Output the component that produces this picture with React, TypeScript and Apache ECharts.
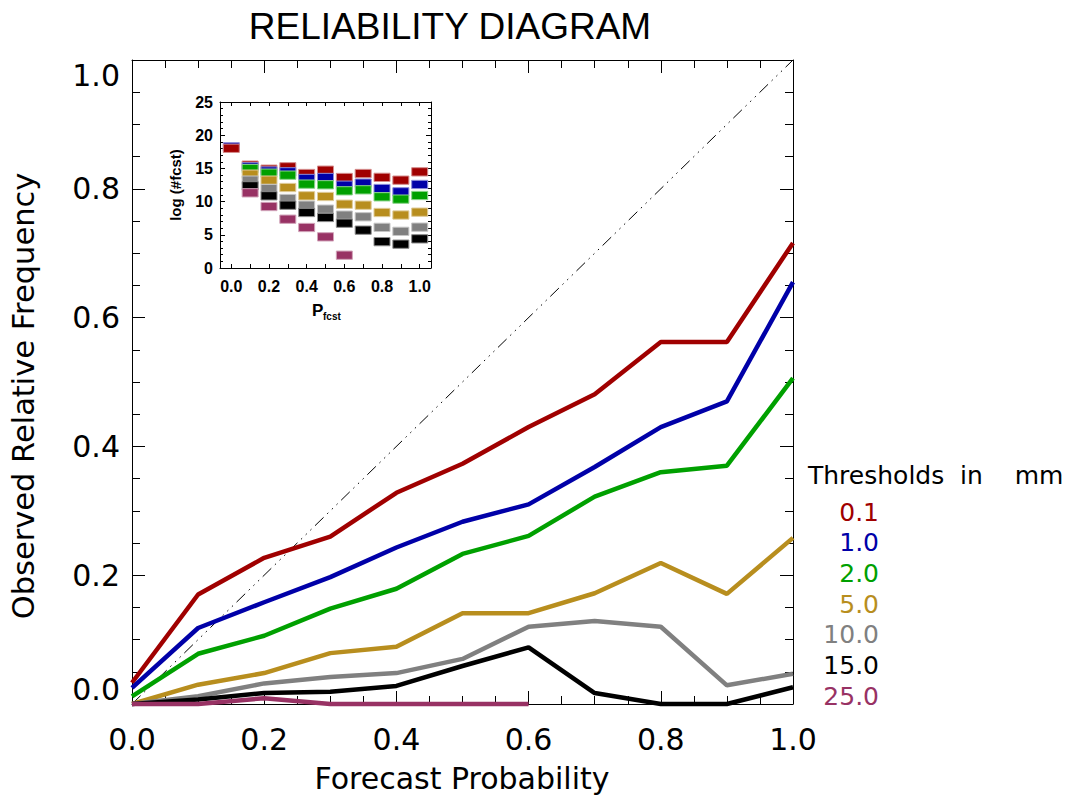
import React, { useEffect, useRef } from "react";
import * as echarts from "echarts";

// ---------- data ----------
const probs = [0, 0.1, 0.2, 0.3, 0.4, 0.5, 0.6, 0.7, 0.8, 0.9, 1.0];
const thresholds = ["0.1", "1.0", "2.0", "5.0", "10.0", "15.0", "25.0"];
const colors = ["#a00000", "#0000a8", "#00a000", "#b88e1e", "#808080", "#000000", "#983264"];

// observed relative frequency per threshold
const rel01 = [0.033, 0.17, 0.227, 0.26, 0.328, 0.373, 0.43, 0.481, 0.562, 0.562, 0.716];
const rel1 = [0.025, 0.118, 0.158, 0.197, 0.243, 0.283, 0.31, 0.368, 0.43, 0.47, 0.655];
const rel2 = [0.012, 0.078, 0.106, 0.148, 0.179, 0.233, 0.261, 0.322, 0.36, 0.37, 0.506];
const rel5 = [0.0, 0.03, 0.048, 0.079, 0.089, 0.141, 0.141, 0.172, 0.219, 0.171, 0.258];
const rel10 = [0.0, 0.012, 0.032, 0.042, 0.048, 0.07, 0.12, 0.129, 0.12, 0.029, 0.047];
const rel15 = [0.0, 0.007, 0.017, 0.019, 0.028, 0.059, 0.088, 0.017, 0.0, 0.0, 0.026];
const rel25 = [0.0, 0.0, 0.009, 0.0, 0.0, 0.0, 0.0, null, null, null, null];

// log(#fcst) per threshold (inset)
const fc01 = [18.03, 15.49, 14.88, 15.24, 14.23, 14.73, 13.63, 14.23, 13.65, 13.23, 14.48];
const fc1 = [18.25, 15.24, 14.61, 14.48, 13.48, 13.63, 12.47, 12.78, 11.97, 11.47, 12.58];
const fc2 = [null, 14.98, 14.28, 13.98, 12.63, 12.53, 11.62, 11.77, 10.72, 10.37, 10.92];
const fc5 = [null, 14.13, 13.23, 12.12, 10.87, 10.77, 9.61, 9.46, 8.36, 7.98, 8.41];
const fc10 = [null, 13.23, 11.97, 10.47, 9.46, 8.86, 7.96, 7.71, 6.12, 5.52, 6.15];
const fc15 = [null, 12.37, 10.87, 9.46, 8.36, 7.61, 6.75, 5.7, 3.97, 3.59, 4.39];
const fc25 = [null, 11.32, 9.26, 7.35, 6.1, 4.69, 1.93, null, null, null, null];

const diagonal = [0, 1];
const mainTicks = [0, 0.2, 0.4, 0.6, 0.8, 1.0];
const insetXTicks = [0, 0.1, 0.2, 0.3, 0.4, 0.5, 0.6, 0.7, 0.8, 0.9, 1.0];
const insetXLabels = [0, 0.2, 0.4, 0.6, 0.8, 1.0];

const relSeries = [rel01, rel1, rel2, rel5, rel10, rel15, rel25];
const fcSeries = [fc01, fc1, fc2, fc5, fc10, fc15, fc25];

const FONT = "DejaVu Sans";
const BOLD = "Liberation Sans";

function lighten(hex: string, t: number) {
  const n = parseInt(hex.slice(1), 16);
  const r = (n >> 16) & 255, g = (n >> 8) & 255, b = n & 255;
  const m = (c: number) => Math.round(c + (255 - c) * t);
  return `rgb(${m(r)},${m(g)},${m(b)})`;
}

export default function App() {
  const ref = useRef<HTMLDivElement>(null);
  useEffect(() => {
    const chart = echarts.init(ref.current as HTMLDivElement, null, { renderer: "svg" });

    const axisLine = { show: true, onZero: false, lineStyle: { color: "#000", width: 1 } };
    const mainX = (position: string, labels: boolean) => ({
      type: "value", gridIndex: 0, position, min: 0, max: 1, interval: 0.2,
      axisLine,
      axisTick: { show: true, inside: true, length: 13, lineStyle: { color: "#000", width: 1 } },
      minorTick: { show: true, splitNumber: 4, length: 8, lineStyle: { color: "#000", width: 1 } },
      splitLine: { show: false }, minorSplitLine: { show: false },
      axisLabel: labels
        ? { show: true, margin: 20, fontSize: 30, fontFamily: FONT, color: "#000", formatter: (v: number) => v.toFixed(1) }
        : { show: false },
    });
    const mainY = (position: string, labels: boolean) => ({
      type: "value", gridIndex: 0, position, min: 0, max: 1, interval: 0.2,
      axisLine,
      axisTick: { show: true, inside: true, length: 13, lineStyle: { color: "#000", width: 1 } },
      minorTick: { show: true, splitNumber: 4, length: 8, lineStyle: { color: "#000", width: 1 } },
      splitLine: { show: false }, minorSplitLine: { show: false },
      axisLabel: labels
        ? {
            show: true, margin: 12, fontSize: 30, fontFamily: FONT, color: "#000",
            formatter: (v: number) => v.toFixed(1),
            verticalAlignMinLabel: "bottom", verticalAlignMaxLabel: "top",
          }
        : { show: false },
    });
    const insetX = (position: string, labels: boolean) => ({
      type: "value", gridIndex: 1, position, min: -0.06, max: 1.06,
      axisLine,
      axisTick: { show: true, inside: true, length: 4, customValues: insetXTicks, lineStyle: { color: "#000", width: 1 } },
      splitLine: { show: false },
      axisLabel: labels
        ? {
            show: true, margin: 10, fontSize: 16, fontWeight: "bold", fontFamily: BOLD, color: "#000",
            customValues: insetXLabels, formatter: (v: number) => v.toFixed(1),
            showMinLabel: true, showMaxLabel: true,
          }
        : { show: false },
    });
    const insetY = (position: string, labels: boolean) => ({
      type: "value", gridIndex: 1, position, min: 0, max: 25, interval: 5,
      axisLine,
      axisTick: { show: true, inside: true, length: 5, lineStyle: { color: "#000", width: 1 } },
      minorTick: { show: true, splitNumber: 5, length: 3, lineStyle: { color: "#000", width: 1 } },
      splitLine: { show: false }, minorSplitLine: { show: false },
      axisLabel: labels
        ? { show: true, margin: 7, fontSize: 16, fontWeight: "bold", fontFamily: BOLD, color: "#000" }
        : { show: false },
    });

    const lineSeries = relSeries.map((vals, k) => ({
      type: "line", name: thresholds[k], xAxisIndex: 0, yAxisIndex: 0,
      data: probs.map((p, i) => [p, vals[i]]),
      showSymbol: false, symbol: "none", clip: false, connectNulls: false,
      lineStyle: { color: colors[k], width: 4.5 }, z: 3 + k * 0.01,
    }));

    const boxW = 0.085, boxH = 1.25;
    const boxSeries = fcSeries.map((vals, k) => ({
      type: "custom", name: "n" + thresholds[k], xAxisIndex: 2, yAxisIndex: 2,
      data: probs.map((p, i) => [p, vals[i], i]).filter((d) => d[1] !== null),
      renderItem: (params: any, api: any) => {
        const c = api.coord([api.value(0), api.value(1)]);
        const s = api.size([boxW, boxH]);
        const idx = api.value(2);
        return {
          type: "rect",
          z2: idx === 0 ? 20 - k : k,
          shape: { x: c[0] - s[0] / 2, y: c[1] - s[1] / 2, width: s[0], height: s[1] },
          style: { fill: colors[k], stroke: lighten(colors[k], 0.55), lineWidth: 1 },
        };
      },
      z: 4,
    }));

    const option: any = {
      animation: false,
      backgroundColor: "#fff",
      grid: [
        { left: 132, top: 60, width: 661, height: 644 },
        { left: 220, top: 102, width: 211, height: 166 },
      ],
      xAxis: [mainX("bottom", true), mainX("top", false), insetX("bottom", true), insetX("top", false)],
      yAxis: [mainY("left", true), mainY("right", false), insetY("left", true), insetY("right", false)],
      series: [
        {
          type: "line", name: "perfect", xAxisIndex: 0, yAxisIndex: 0,
          data: diagonal.map((v) => [v, v]), showSymbol: false, symbol: "none",
          lineStyle: { color: "#000", width: 1, type: [12, 5, 1.5, 5, 1.5, 5, 1.5, 5] }, z: 2,
        },
        ...lineSeries,
        ...boxSeries,
      ],
      graphic: [
        { type: "text", x: 450, y: 26, style: { text: "RELIABILITY DIAGRAM", fontSize: 37, fontFamily: "Liberation Sans", fill: "#000", align: "center", verticalAlign: "middle" } },
        { type: "text", x: 462, y: 778, style: { text: "Forecast Probability", fontSize: 30, fontFamily: FONT, fill: "#000", align: "center", verticalAlign: "middle" } },
        { type: "text", x: 23, y: 396, rotation: Math.PI / 2, style: { text: "Observed Relative Frequency", fontSize: 30.5, fontFamily: FONT, fill: "#000", align: "center", verticalAlign: "middle" } },
        { type: "text", x: 175, y: 185, rotation: Math.PI / 2, style: { text: "log (#fcst)", fontSize: 15, fontWeight: "bold", fontFamily: BOLD, fill: "#000", align: "center", verticalAlign: "middle" } },
        { type: "text", x: 312, y: 310, style: { text: "P", fontSize: 17, fontWeight: "bold", fontFamily: BOLD, fill: "#000", align: "left", verticalAlign: "middle" } },
        { type: "text", x: 323, y: 316, style: { text: "fcst", fontSize: 10, fontWeight: "bold", fontFamily: BOLD, fill: "#000", align: "left", verticalAlign: "middle" } },
        { type: "text", x: 808, y: 475, style: { text: "Thresholds  in    mm", fontSize: 25, fontFamily: FONT, fill: "#000", align: "left", verticalAlign: "middle" } },
        ...thresholds.map((t, k) => ({
          type: "text", x: 879, y: 512 + k * 30.7,
          style: { text: t, fontSize: 25, fontFamily: FONT, fill: colors[k], align: "right", verticalAlign: "middle" },
        })),
      ],
    };
    chart.setOption(option);
    return () => chart.dispose();
  }, []);
  return (
    <div
      ref={ref}
      style={{ position: "absolute", left: 0, top: 0, width: 1070, height: 801, background: "#fff" }}
    />
  );
}
